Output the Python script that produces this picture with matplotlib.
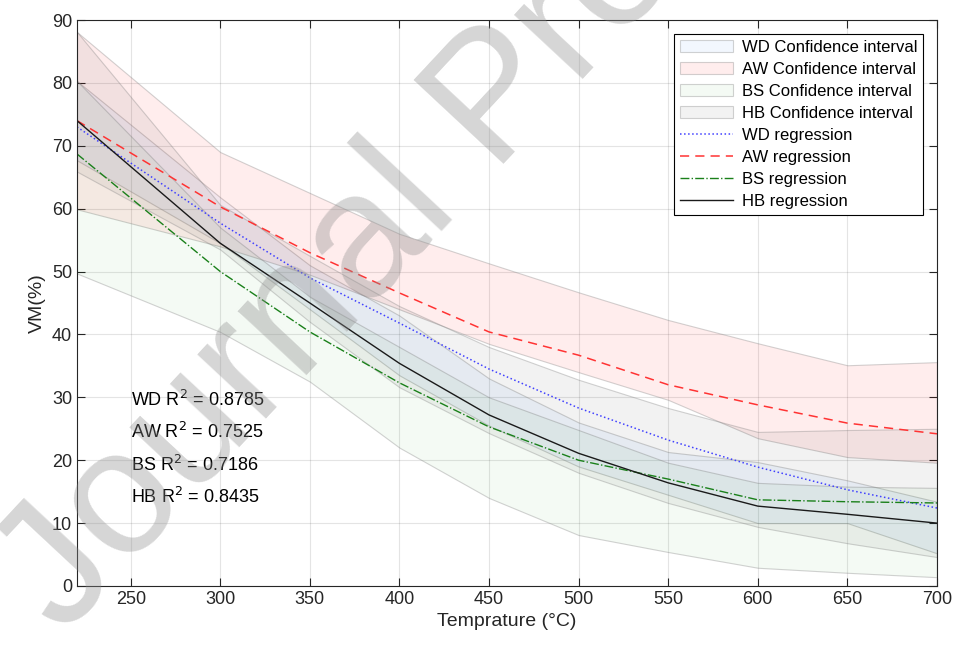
import numpy as np
import matplotlib.pyplot as plt

plt.rcParams['font.family'] = ['Liberation Sans', 'DejaVu Sans']

# ---------------------------
# данные
# ---------------------------
temp = [220, 300, 350, 400, 450, 500, 550, 600, 650, 700]

wd_reg = [73.0, 57.7, 49.0, 41.8, 34.5, 28.3, 23.2, 18.9, 15.3, 12.4]
aw_reg = [74.0, 60.3, 53.0, 46.6, 40.4, 36.7, 32.0, 28.8, 25.9, 24.2]
bs_reg = [68.7, 50.0, 40.4, 32.3, 25.3, 20.0, 17.0, 13.7, 13.4, 13.2]
hb_reg = [74.0, 54.5, 45.0, 35.4, 27.2, 21.1, 16.4, 12.7, 11.4, 10.0]

wd_up = [80.3, 61.8, 51.0, 43.0, 33.0, 26.0, 21.3, 19.7, 16.8, 13.4]
wd_lo = [67.7, 54.5, 44.0, 33.5, 25.5, 19.0, 14.5, 10.0, 10.0, 5.2]
aw_up = [88.1, 69.0, 62.5, 56.0, 51.3, 46.7, 42.3, 38.6, 35.1, 35.6]
aw_lo = [59.9, 54.0, 49.5, 44.0, 38.5, 34.0, 29.6, 23.5, 20.5, 19.6]
bs_up = [80.3, 57.0, 46.0, 38.0, 30.0, 24.8, 19.6, 16.4, 15.8, 15.6]
bs_lo = [49.7, 40.4, 32.5, 22.0, 14.0, 8.1, 5.4, 2.9, 2.1, 1.4]
hb_up = [88.1, 60.6, 52.5, 44.5, 38.0, 32.8, 28.3, 24.5, 24.8, 25.0]
hb_lo = [65.9, 53.5, 42.0, 31.6, 24.3, 18.0, 13.2, 9.4, 6.8, 4.6]

r2_labels = ["WD", "AW", "BS", "HB"]
r2_values = [0.8785, 0.7525, 0.7186, 0.8435]

EDGE = (0.5, 0.5, 0.5, 0.35)
DARK = (0.15, 0.15, 0.15)

fig = plt.figure(figsize=(9.55, 6.48), dpi=100)
ax = fig.add_axes([0.0806, 0.0957, 0.9005, 0.8734])

# доверительные интервалы
ax.fill_between(temp, wd_lo, wd_up, facecolor=(0.0, 0.45, 0.95, 0.05),
                edgecolor=EDGE, lw=0.8, label="WD Confidence interval")
ax.fill_between(temp, aw_lo, aw_up, facecolor=(1.0, 0.0, 0.0, 0.07),
                edgecolor=EDGE, lw=0.8, label="AW Confidence interval")
ax.fill_between(temp, bs_lo, bs_up, facecolor=(0.0, 0.6, 0.0, 0.045),
                edgecolor=EDGE, lw=0.8, label="BS Confidence interval")
ax.fill_between(temp, hb_lo, hb_up, facecolor=(0.0, 0.0, 0.0, 0.05),
                edgecolor=EDGE, lw=0.8, label="HB Confidence interval")

# регрессии
ax.plot(temp, wd_reg, ':', color=(0.25, 0.25, 1.0), lw=1.1, label="WD regression")
ax.plot(temp, aw_reg, '--', color=(1.0, 0.2, 0.2), lw=1.1, dashes=(6, 4),
        label="AW regression")
ax.plot(temp, bs_reg, '-.', color=(0.1, 0.5, 0.1), lw=1.0, label="BS regression")
ax.plot(temp, hb_reg, '-', color=(0.1, 0.1, 0.1), lw=1.0, label="HB regression")

for i, (name, val) in enumerate(zip(r2_labels, r2_values)):
    ax.text(250, 29.6 - i * 5.15, f"{name} R$^2$ = {val:.4f}", fontsize=13,
            va='center', ha='left', color='black')

# оформление
ax.set_xlim(220, 700)
ax.set_ylim(0, 90)
ax.set_xticks(range(250, 701, 50))
ax.set_yticks(range(0, 91, 10))
ax.grid(True, color=DARK, alpha=0.12, lw=0.8)
ax.set_axisbelow(True)
ax.tick_params(direction='in', top=True, right=True, length=6, width=0.8,
               labelsize=13, colors=DARK)
for s in ax.spines.values():
    s.set_color(DARK)
    s.set_linewidth(0.8)

ax.set_xlabel("Temprature (°C)", fontsize=14, color=DARK)
ax.set_ylabel("VM(%)", fontsize=14, color=DARK, labelpad=4)

leg = ax.legend(loc='upper right', bbox_to_anchor=(0.9837, 0.9753),
                borderaxespad=0, fontsize=12, fancybox=False, framealpha=1,
                edgecolor='black', handlelength=3.2, labelspacing=0.42,
                borderpad=0.35, handletextpad=0.5)
leg.get_frame().set_linewidth(0.8)

# водяной знак
fig.text(0.066, 0.018, "Journal Pre-proof", fontsize=128,
         rotation=47, rotation_mode='anchor', ha='left', va='baseline',
         color=(0.55, 0.55, 0.55), alpha=0.36, zorder=10)

fig.savefig("out.png", dpi=100)
